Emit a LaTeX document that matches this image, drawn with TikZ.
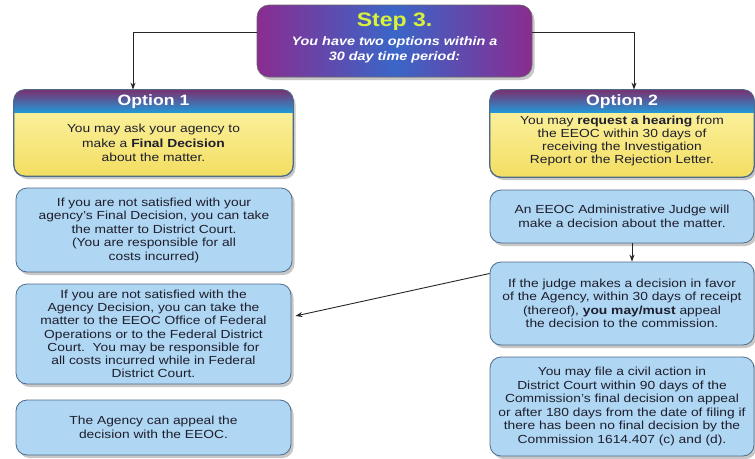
\documentclass[tikz,border=0pt]{standalone}
\usepackage{fontspec}
\setmainfont{Liberation Sans}[FakeStretch=1.18]
\usetikzlibrary{shadows,arrows.meta,calc}
\definecolor{boxblue}{HTML}{AFD6F2}
\definecolor{boxedge}{HTML}{4E6C8A}
\definecolor{txtdark}{HTML}{1E1E2C}
\definecolor{ylight}{HTML}{FDF6AE}
\definecolor{ydark}{HTML}{F3DE62}
\definecolor{hpurple}{HTML}{7A2F6E}
\definecolor{hmid}{HTML}{4F5FAE}
\definecolor{hblue}{HTML}{2399D8}
\definecolor{spurple}{HTML}{8A2C90}
\definecolor{sblue}{HTML}{3A66C8}
\definecolor{stepyellow}{HTML}{D9F23A}
\tikzset{
  shadowed/.style={general shadow={fill=black!22, shadow xshift=2.5pt, shadow yshift=-3pt}},
  bluebox/.style={draw=boxedge, line width=0.8pt, rounded corners=11pt, fill=boxblue,
    shadowed, inner sep=0pt, align=center, text=txtdark,
    font=\fontsize{11.7}{13.5}\selectfont},
  optbox/.style={draw=boxedge, line width=0.8pt, rounded corners=11pt,
    top color=ylight, bottom color=ydark, shadowed, inner sep=0pt},
  bodytext/.style={align=center, text=txtdark, inner sep=0pt, font=\fontsize{11.7}{14.5}\selectfont},
  headtext/.style={text=white, inner sep=0pt, font=\fontsize{15}{16}\selectfont\bfseries},
  conn/.style={draw=black!85, line width=0.9pt, -{Stealth[length=7pt,width=5pt]}},
}
\begin{document}
\begin{tikzpicture}[x=1pt,y=-1pt]
\useasboundingbox[fill=white] (0,0) rectangle (755,458);

% Step 3 box
\node[draw=black!60, line width=0.6pt, rounded corners=12pt, left color=spurple, right color=spurple,
  middle color=sblue, shadowed, minimum width=275pt, minimum height=72pt, inner sep=0pt]
  (step) at (394.5,41) {};
\node[inner sep=0pt, text=stepyellow, font=\fontsize{19.5}{20}\selectfont\bfseries]
  (steptitle) at (394.5,21.5) {Step 3.};
\node[align=center, inner sep=0pt, text=white, font=\fontsize{12.2}{14.5}\selectfont\bfseries\itshape]
  (stepsub) at (394.5,50) {You have two options within a\\ 30 day time period:};

% Option boxes
\node[optbox, minimum width=279pt, minimum height=86pt] (o1) at (153.5,133) {};
\node[optbox, minimum width=264pt, minimum height=87pt] (o2) at (622,133.5) {};
\foreach \o in {o1,o2}{
  \begin{scope}
    \clip[rounded corners=11pt] (\o.north west) rectangle (\o.south east);
    \shade[top color=hpurple, middle color=hmid, bottom color=hblue]
      (\o.north west) rectangle ([yshift=-23pt]\o.north east);
  \end{scope}
  \draw[boxedge, line width=0.8pt, rounded corners=11pt] (\o.north west) rectangle (\o.south east);
}
\node[headtext] (h1) at (153.5,101.5) {Option 1};
\node[headtext] (h2) at (622,101.5) {Option 2};
\node[bodytext] (b1) at (153.5,143) {You may ask your agency to\\ make a \textbf{Final Decision}\\ about the matter.};
\node[bodytext, font=\fontsize{11.7}{13}\selectfont] (b2) at (622,140.5) {You may \textbf{request a hearing} from\\ the EEOC within 30 days of\\ receiving the Investigation\\ Report or the Rejection Letter.};

% Left column
\node[bluebox, minimum width=276pt, minimum height=84pt] (A) at (154,230)
  {If you are not satisfied with your\\ agency's Final Decision, you can take\\ the matter to District Court.\\ (You are responsible for all\\ costs incurred)};
\node[bluebox, font=\fontsize{11.7}{13.2}\selectfont, minimum width=275pt, minimum height=100pt] (B) at (153.5,334)
  {If you are not satisfied with the\\ Agency Decision, you can take the\\ matter to the EEOC Office of Federal\\ Operations or to the Federal District\\ Court.\ \ You may be responsible for\\ all costs incurred while in Federal\\ District Court.};
\node[bluebox, minimum width=275pt, minimum height=55pt] (C) at (153.5,427.5)
  {The Agency can appeal the\\ decision with the EEOC.};

% Right column
\node[bluebox, minimum width=264pt, minimum height=53pt] (D) at (622,216.5)
  {An EEOC Administrative Judge will\\ make a decision about the matter.};
\node[bluebox, minimum width=264pt, minimum height=83pt] (E) at (622,303.5)
  {If the judge makes a decision in favor\\ of the Agency, within 30 days of receipt\\ (thereof), \textbf{you may/must} appeal\\ the decision to the commission.};
\node[bluebox, minimum width=264pt, minimum height=99pt] (F) at (622,406.5)
  {You may file a civil action in\\ District Court within 90 days of the\\ Commission's final decision on appeal\\ or after 180 days from the date of filing if\\ there has been no final decision by the\\ Commission 1614.407 (c) and (d).};

% Connectors
\draw[conn] ([yshift=9pt]step.west) -| ([xshift=-20.5pt]o1.north);
\draw[conn] ([yshift=9pt]step.east) -| ([xshift=12pt]o2.north);
\draw[conn] ([xshift=10pt]D.south) -- ([xshift=10pt]E.north);
\draw[conn] ([yshift=30pt]E.west) -- ([xshift=4pt,yshift=18pt]B.east);
\end{tikzpicture}
\end{document}
